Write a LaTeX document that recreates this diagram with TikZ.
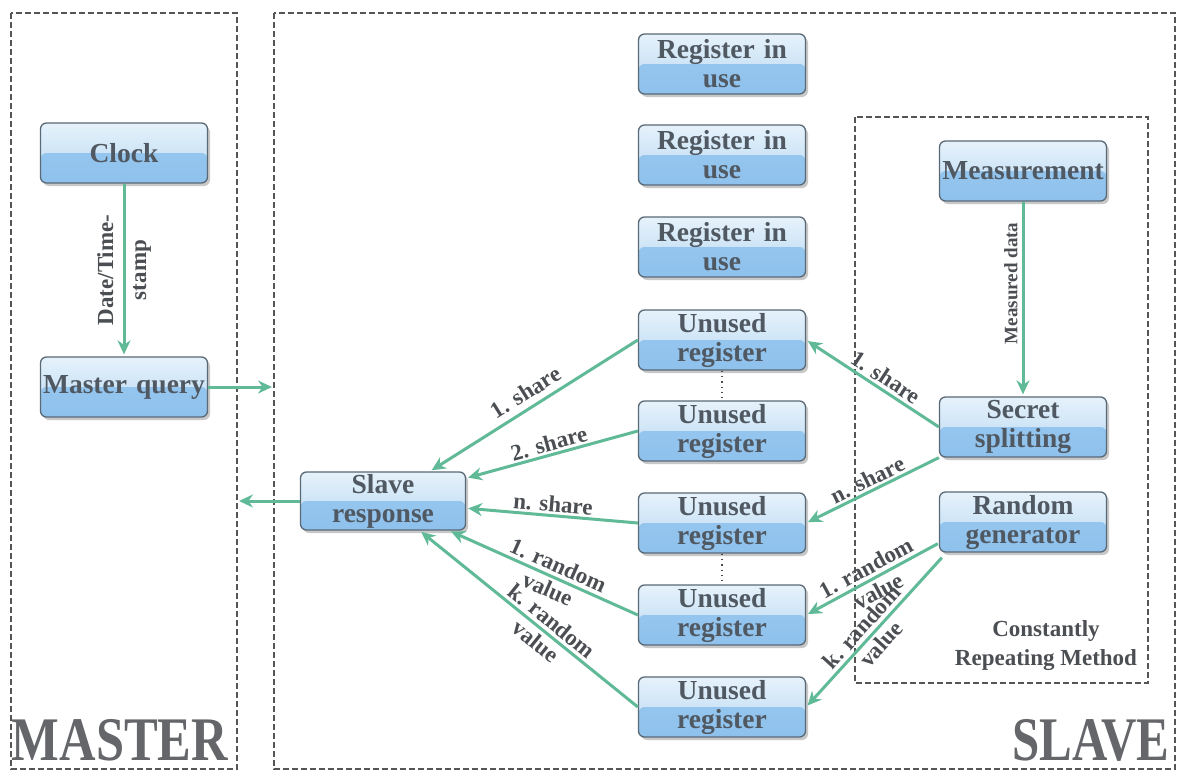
\documentclass[tikz,border=0pt]{standalone}
\usepackage{fontspec}
\setmainfont{Liberation Serif}
\usetikzlibrary{shadows,arrows.meta,calc}
\definecolor{arrowgreen}{RGB}{96,186,152}
\definecolor{boxborder}{RGB}{90,105,118}
\definecolor{txtgray}{RGB}{80,88,98}
\definecolor{lblgray}{RGB}{75,78,82}
\definecolor{dashgray}{RGB}{85,85,85}
\definecolor{topA}{RGB}{230,242,251}
\definecolor{topB}{RGB}{182,216,242}
\definecolor{botA}{RGB}{154,202,240}
\definecolor{botB}{RGB}{142,193,236}
\definecolor{bigtxt}{RGB}{100,102,105}
\begin{document}
\begin{tikzpicture}[x=1pt,y=-1pt,
  box/.style={draw=boxborder, line width=1.3pt, rounded corners=6pt,
    minimum width=167pt, minimum height=60pt, text width=167pt, align=center,
    inner sep=0pt, font=\fontsize{27.5}{29}\selectfont\bfseries, text=txtgray,
    top color=topA, bottom color=topB,
    drop shadow={shadow xshift=2.5pt, shadow yshift=-3pt, opacity=0.3, fill=black!70},
    path picture={\shade[top color=botA, bottom color=botB]
      (path picture bounding box.west) rectangle (path picture bounding box.south east);}},
  conn/.style={draw=arrowgreen, line width=3pt, -{Stealth[length=14pt,width=13pt]}, shorten >=2pt},
  lbl/.style={font=\fontsize{23}{26}\selectfont\bfseries, text=lblgray, inner sep=1pt},
  lbltwo/.style={font=\fontsize{23}{26}\selectfont\bfseries, text=lblgray, inner sep=1pt, align=center},
  lblsmall/.style={font=\fontsize{19}{21}\selectfont\bfseries, text=lblgray, inner sep=1pt},
  region/.style={draw=dashgray, line width=1.2pt, dash pattern=on 6pt off 3pt},
  dotline/.style={draw=black!70, line width=1.3pt, dash pattern=on 1.3pt off 4pt},
  bigt/.style={font=\fontsize{62}{62}\selectfont\bfseries, text=bigtxt, inner sep=0pt},
]
\useasboundingbox (0,0) rectangle (1178,771);
\fill[white] (0,0) rectangle (1178,771);

% regions
\draw[region] (11,13) rectangle (237,769);
\draw[region] (274,13) rectangle (1175,769);
\draw[region] (855,117) rectangle (1148,683);

% master side
\node[box] (clock) at (124,153) {Clock};
\node[box] (mq) at (124,387) {Master query};

% registers
\node[box] (r1) at (722,64) {Register in\\use};
\node[box] (r2) at (722,155) {Register in\\use};
\node[box] (r3) at (722,247) {Register in\\use};
\node[box] (u1) at (722,340) {Unused\\register};
\node[box] (u2) at (722,431) {Unused\\register};
\node[box] (u3) at (722,523) {Unused\\register};
\node[box] (u4) at (722,615) {Unused\\register};
\node[box] (u5) at (722,707) {Unused\\register};

\node[box, minimum width=165pt, text width=165pt, minimum height=58pt] (sr) at (383,501) {Slave\\response};

\node[box] (meas) at (1023,171) {Measurement};
\node[box] (ss) at (1023,427) {Secret\\splitting};
\node[box] (rg) at (1023,522) {Random\\generator};

% dotted continuation marks
\draw[dotline] (u1.south) -- (u2.north);
\draw[dotline] (u3.south) -- (u4.north);

% master connectors
\draw[conn] (clock.south) -- (mq.north)
  node[midway, rotate=90, lbltwo, font=\fontsize{23}{33}\selectfont\bfseries] {Date/Time-\\stamp};
\coordinate (slaveL) at (274,387);
\coordinate (masterR) at (237,501);
\draw[conn] (mq.east) -- (slaveL);
\draw[conn] (sr.west) -- (masterR);

% left fan
\draw[conn] (u1.west) -- (sr) node[lbl, sloped, pos=0.5, above=5pt] {1. share};
\draw[conn] (u2.west) -- (sr) node[lbl, sloped, pos=0.5, above=1pt] {2. share};
\draw[conn] (u3.west) -- (sr) node[lbl, sloped, pos=0.5, above=1pt] {n. share};
\draw[conn] (u4.west) -- (sr) node[lbltwo, sloped, pos=0.45] {1. random\\value};
\draw[conn] (u5.west) -- (sr) node[lbltwo, sloped, pos=0.43] {k. random\\value};

% right side
\draw[conn] (meas.south) -- (ss.north) node[lblsmall, pos=0.42, rotate=90, above=3pt] {Measured data};
\draw[conn] (ss.west) -- (u1.east) node[lbl, sloped, pos=0.45, above=2pt] {1. share};
\draw[conn] (ss.south west) -- (u3.east) node[lbl, sloped, pos=0.5, above=1pt] {n. share};
\coordinate (rgA) at ($(rg.south west)+(-1,-9)$);
\coordinate (rgB) at ($(rg.south west)+(3,5)$);
\draw[conn] (rgA) -- (u4.east) node[lbltwo, sloped, pos=0.5] {1. random\\value};
\draw[conn] (rgB) -- (u5.east) node[lbltwo, sloped, pos=0.52] {k. random\\value};

% texts
\node[lbltwo, font=\fontsize{23}{29}\selectfont\bfseries] (crm) at (1046,646) {Constantly\\Repeating Method};
\node[bigt] (mastert) at (120,740) {\scalebox{0.815}[1]{MASTER}};
\node[bigt] (slavet) at (1091,740) {\scalebox{0.79}[1]{SLAVE}};
\end{tikzpicture}
\end{document}
